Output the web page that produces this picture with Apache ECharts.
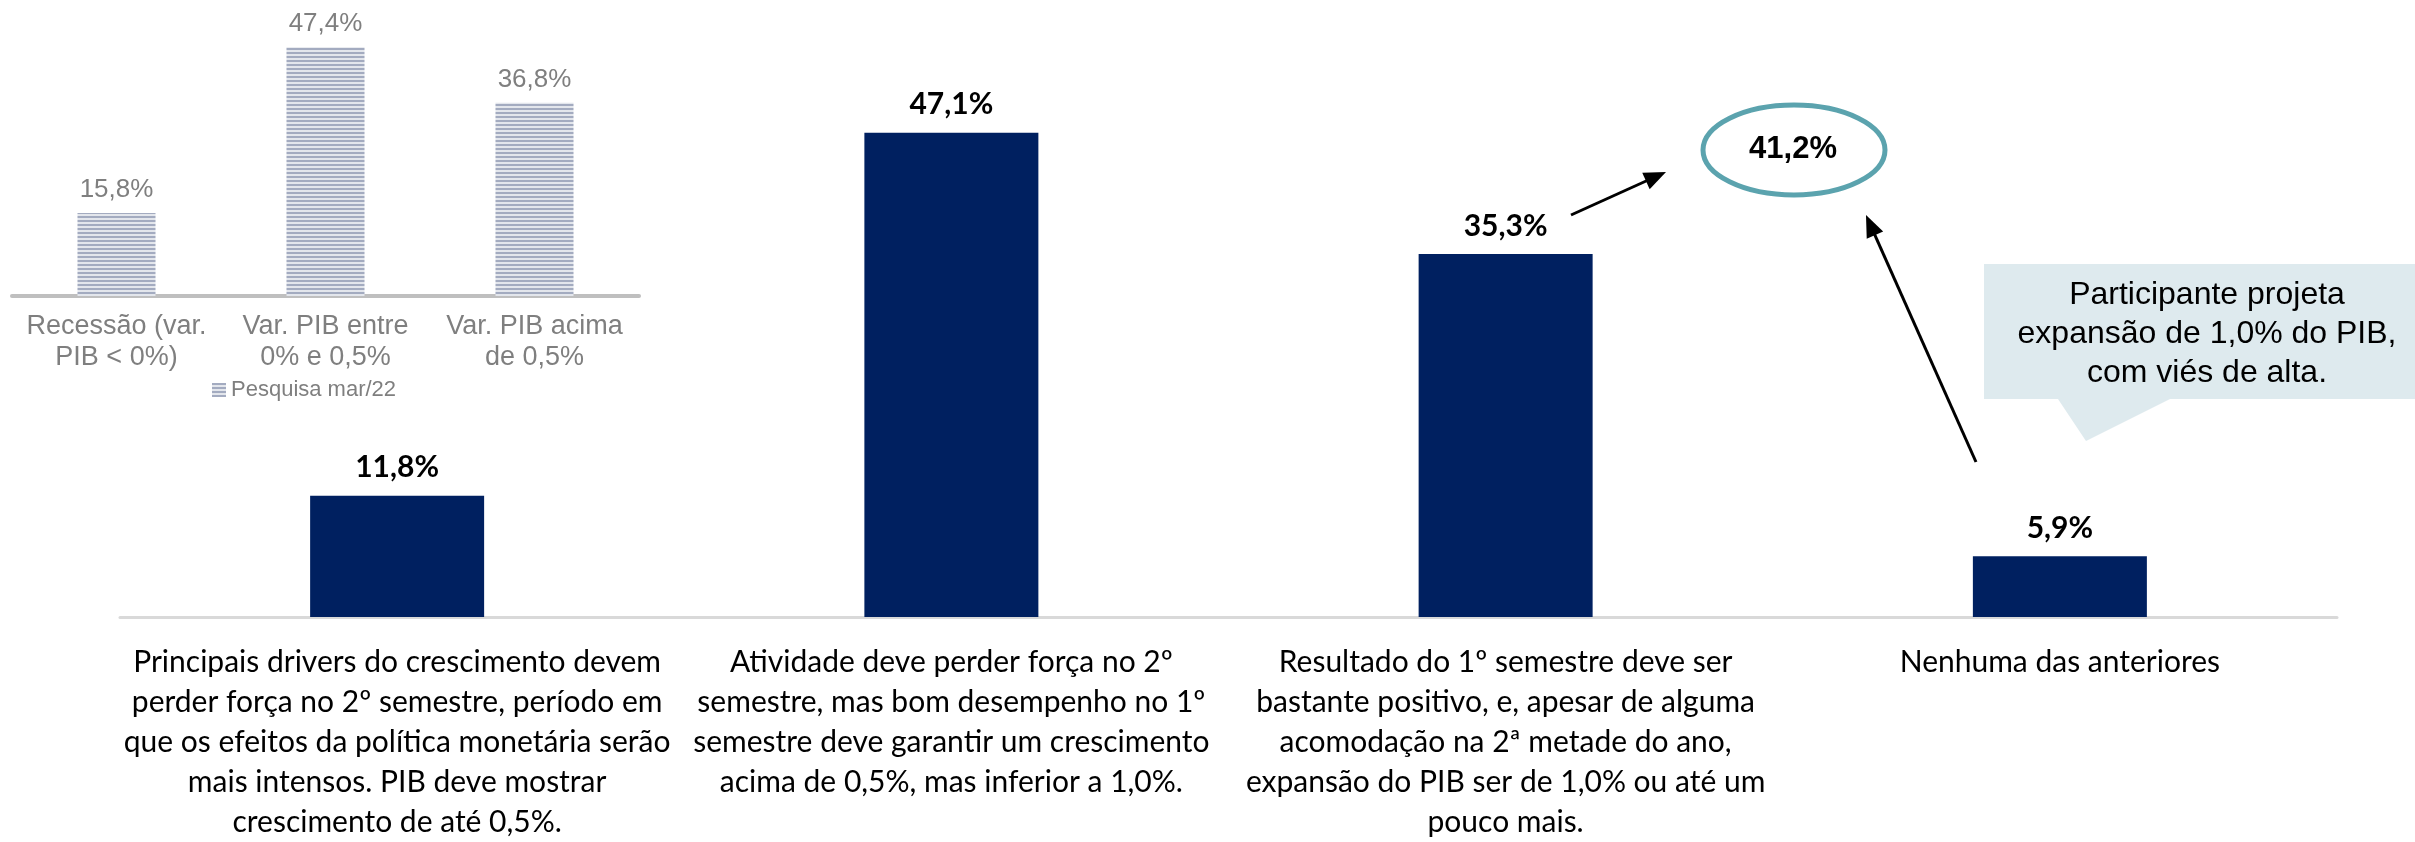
<!DOCTYPE html>
<html>
<head>
<meta charset="utf-8">
<script src="https://cdn.jsdelivr.net/npm/echarts@6/dist/echarts.min.js"></script>
<style>
html,body{margin:0;padding:0;background:#fff;}
#chart{width:2415px;height:842px;}
</style>
</head>
<body>
<div id="chart"></div>
<script>
// ---- Data ----
const mainCategories = [
  'Principais drivers do crescimento devem\nperder força no 2º semestre, período em\nque os efeitos da política monetária serão\nmais intensos. PIB deve mostrar\ncrescimento de até 0,5%.',
  'Atividade deve perder força no 2º\nsemestre, mas bom desempenho no 1º\nsemestre deve garantir um crescimento\nacima de 0,5%, mas inferior a 1,0%.',
  'Resultado do 1º semestre deve ser\nbastante positivo, e, apesar de alguma\nacomodação na 2ª metade do ano,\nexpansão do PIB ser de 1,0% ou até um\npouco mais.',
  'Nenhuma das anteriores'
];
const mainValues = [11.8, 47.1, 35.3, 5.9];

const insetCategories = ['Recessão (var.\nPIB < 0%)', 'Var. PIB entre\n0% e 0,5%', 'Var. PIB acima\nde 0,5%'];
const insetValues = [15.8, 47.4, 36.8];
const insetSeriesName = 'Pesquisa mar/22';

const highlightText = '41,2%';
const calloutText = 'Participante projeta\nexpansão de 1,0% do PIB,\ncom viés de alta.';

// ---- Helpers ----
const fmt = v => v.toFixed(1).replace('.', ',') + '%';

function stripePattern() {
  const c = document.createElement('canvas');
  c.width = 4; c.height = 4;
  const ctx = c.getContext('2d');
  ctx.fillStyle = '#e3e6ec';
  ctx.fillRect(0, 0, 4, 4);
  ctx.fillStyle = '#a3abc0';
  ctx.fillRect(0, 0, 4, 2);
  return { image: c, repeat: 'repeat' };
}

function arrow(x1, y1, x2, y2) {
  const dx = x2 - x1, dy = y2 - y1, L = Math.hypot(dx, dy);
  const ux = dx / L, uy = dy / L, hl = 22, hw = 9;
  const bx = x2 - ux * hl, by = y2 - uy * hl;
  return [
    { type: 'line', shape: { x1: x1, y1: y1, x2: bx + ux * 2, y2: by + uy * 2 }, style: { stroke: '#000', lineWidth: 3 } },
    { type: 'polygon', shape: { points: [[x2, y2], [bx - uy * hw, by + ux * hw], [bx + uy * hw, by - ux * hw]] }, style: { fill: '#000' } }
  ];
}

const chart = echarts.init(document.getElementById('chart'), null, { renderer: 'canvas' });
const pattern = stripePattern();

const option = {
  animation: false,
  backgroundColor: '#fff',
  legend: {
    data: [insetSeriesName],
    left: 207, top: 374,
    itemWidth: 14, itemHeight: 14,
    icon: 'rect',
    textStyle: { fontFamily: 'Liberation Sans', fontSize: 22, color: '#7f7f7f' }
  },
  grid: [
    { left: 120, right: 78, top: 103, bottom: 214 },
    { left: 12, width: 627, top: 33.5, bottom: 546 }
  ],
  xAxis: [
    {
      type: 'category', gridIndex: 0, data: mainCategories,
      axisLine: { lineStyle: { color: '#d9d9d9', width: 3 } },
      axisTick: { show: false },
      axisLabel: { interval: 0, margin: 25, fontFamily: 'Lato', fontSize: 30, lineHeight: 40, color: '#000', align: 'center' }
    },
    {
      type: 'category', gridIndex: 1, data: insetCategories,
      axisLine: { lineStyle: { color: '#bfbfbf', width: 4 } },
      axisTick: { show: false },
      axisLabel: { interval: 0, margin: 15, fontFamily: 'Liberation Sans', fontSize: 27, lineHeight: 31, color: '#7f7f7f' }
    }
  ],
  yAxis: [
    { type: 'value', gridIndex: 0, min: 0, max: 50, show: false },
    { type: 'value', gridIndex: 1, min: 0, max: 50, show: false }
  ],
  series: [
    {
      name: 'main', type: 'bar', xAxisIndex: 0, yAxisIndex: 0,
      data: mainValues, barWidth: 174,
      itemStyle: { color: '#002060' },
      label: { show: true, position: 'top', distance: 13, formatter: p => fmt(p.value),
        fontFamily: 'Lato', fontWeight: 'bold', fontSize: 30, color: '#000' }
    },
    {
      name: insetSeriesName, type: 'bar', xAxisIndex: 1, yAxisIndex: 1,
      data: insetValues, barWidth: 78,
      itemStyle: { color: pattern },
      label: { show: true, position: 'top', distance: 10, formatter: p => fmt(p.value),
        fontFamily: 'Liberation Sans', fontSize: 26, color: '#7f7f7f' }
    }
  ],
  graphic: [
    { type: 'polygon', shape: { points: [[1984, 264], [2415, 264], [2415, 399], [2170, 399], [2086, 441], [2058, 399], [1984, 399]] },
      style: { fill: '#deeaee' } },
    { type: 'text', style: { text: calloutText, x: 2207, y: 334, textAlign: 'center', textVerticalAlign: 'middle',
      font: '32px "Liberation Sans"', lineHeight: 39, fill: '#000' } },
    { type: 'ellipse', shape: { cx: 1794, cy: 150, rx: 91, ry: 45 }, style: { fill: 'none', stroke: '#5ba3ae', lineWidth: 5 } },
    { type: 'text', style: { text: highlightText, x: 1793, y: 149, textAlign: 'center', textVerticalAlign: 'middle',
      font: 'bold 31px "Liberation Sans"', fill: '#000' } }
  ].concat(arrow(1571, 215, 1666, 172)).concat(arrow(1976, 462, 1866, 215))
};

chart.setOption(option);
</script>
</body>
</html>
